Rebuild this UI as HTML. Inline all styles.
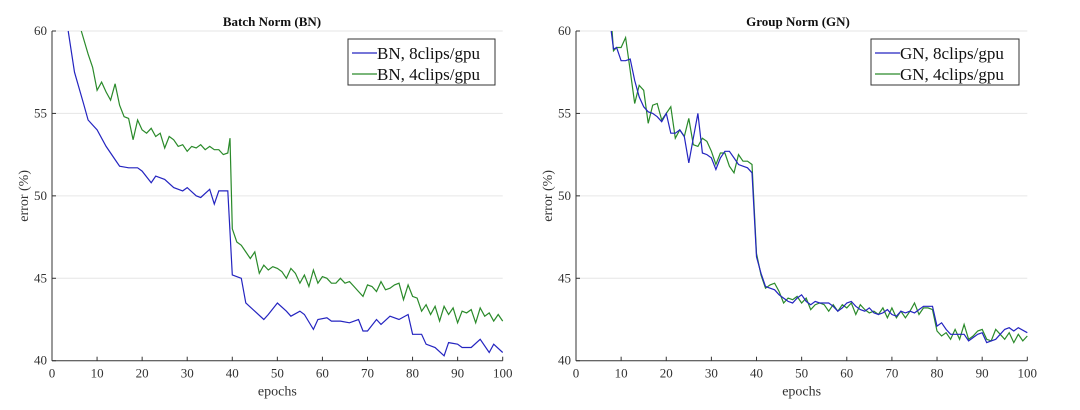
<!DOCTYPE html>
<html><head><meta charset="utf-8"><style>
html,body{margin:0;padding:0;background:#fff;width:1080px;height:410px;overflow:hidden}
svg text{font-family:"Liberation Serif",serif;fill:#333}
</style></head><body>
<svg id="s" width="1080" height="410" xmlns="http://www.w3.org/2000/svg"></svg>
<script>
const S=document.getElementById('s');
function add(tag,attrs,txt){const e=document.createElementNS('http://www.w3.org/2000/svg',tag);for(const k in attrs)e.setAttribute(k,attrs[k]);if(txt!==undefined)e.textContent=txt;S.appendChild(e);return e;}
function P(str){const a=str.trim().split(/\s+/).map(p=>p.split(':').map(Number));return a;}
const data={
bn8:P("3.6:60 5:57.5 7:55.6 8:54.6 10:54 12:53 14:52.2 15:51.8 17:51.7 19:51.7 20:51.5 22:50.8 23:51.2 25:51 27:50.5 29:50.3 30:50.5 32:50 33:49.9 35:50.4 36:49.5 37:50.3 39:50.3 40:45.2 42:45 43:43.5 45:43 47:42.5 48:42.8 50:43.5 52:43 53:42.7 55:43 56:42.8 58:41.9 59:42.5 61:42.6 62:42.4 64:42.4 66:42.3 68:42.5 69:41.8 70:41.8 72:42.5 73:42.2 75:42.7 77:42.5 79:42.8 80:41.6 82:41.6 83:41 85:40.8 87:40.3 88:41.1 90:41 91:40.8 93:40.8 95:41.3 97:40.5 98:41 100:40.5"),
bn4:P("6.5:60 8:58.6 9:57.8 10:56.4 11:56.9 12:56.3 13:55.8 14:56.8 15:55.5 16:54.8 17:54.7 18:53.4 19:54.6 20:54 21:53.8 22:54.1 23:53.6 24:53.8 25:52.9 26:53.6 27:53.4 28:53 29:53.1 30:52.7 31:53 32:52.9 33:53.1 34:52.8 35:53 36:52.8 37:52.8 38:52.5 39:52.6 39.5:53.5 40:48 41:47.2 42:47 43:46.6 44:46.2 45:46.6 46:45.3 47:45.8 48:45.5 49:45.7 50:45.6 51:45.4 52:45 53:45.6 54:45.3 55:44.7 56:45.2 57:44.5 58:45.5 59:44.7 60:45.1 61:45 62:44.7 63:44.7 64:45 65:44.7 66:44.8 67:44.5 68:44.2 69:43.9 70:44.6 71:44.5 72:44.2 73:44.8 74:44.3 75:44.4 76:44.6 77:44.7 78:43.7 79:44.6 80:43.9 81:43.8 82:43 83:43.4 84:42.8 85:43.3 86:42.4 87:43.3 88:42.8 89:43.2 90:42.3 91:43 92:42.9 93:43.1 94:42.3 95:43.2 96:42.7 97:42.9 98:42.4 99:42.8 100:42.4"),
gn8:P("7.8:60 8.3:58.9 9:59 10:58.2 11:58.2 12:58.3 13:57 14:56 15:55.4 16:55.1 17:55 18:54.8 19:54.5 20:55 21:53.8 22:53.8 23:54 24:53.6 25:52 26:53.5 27:55 28:52.6 29:52.5 30:52.3 31:51.6 32:52.3 33:52.7 34:52.7 35:52.3 36:51.9 37:51.8 38:51.7 39:51.4 40:46.3 41:45.3 42:44.5 43:44.4 44:44.3 45:44 46:43.8 47:43.6 48:43.5 49:43.8 50:44 51:43.6 52:43.4 53:43.6 54:43.5 55:43.5 56:43.5 57:43.3 58:43 59:43.2 60:43.5 61:43.6 62:43.3 63:43.1 64:43 65:43.2 66:42.9 67:42.8 68:42.9 69:43.1 70:42.8 71:42.7 72:43 73:42.9 74:43 75:42.9 76:43.1 77:43.3 78:43.3 79:43.3 80:42.1 81:42.3 82:41.9 83:41.6 84:41.6 85:41.6 86:41.6 87:41.2 88:41.4 89:41.6 90:41.7 91:41.1 92:41.2 93:41.3 94:41.6 95:41.9 96:42 97:41.8 98:42 100:41.7"),
gn4:P("8:60 8.3:58.8 9:59 10:59 11:59.6 12:57.6 13:55.6 14:56.7 15:56.4 16:54.4 17:55.5 18:55.6 19:54.6 20:55 21:55.4 22:53.5 23:54 24:53.6 25:54.7 26:53.1 27:53 28:53.5 29:53.3 30:52.7 31:51.9 32:52.6 33:52.6 34:51.8 35:51.4 36:52.5 37:52.1 38:52.1 39:51.9 40:46.5 41:45.2 42:44.4 43:44.6 44:44.7 45:44.2 46:43.5 47:43.8 48:43.7 49:43.9 50:43.5 51:43.8 52:43.1 53:43.4 54:43.5 55:43.4 56:43 57:43.4 58:43 59:43.4 60:43.2 61:43.5 62:42.8 63:43.4 64:43.1 65:42.9 66:43 67:42.8 68:43.2 69:42.6 70:43.2 71:42.6 72:43 73:42.6 74:43 75:43.5 76:42.8 77:43.2 78:43.2 79:43.1 80:41.8 81:41.5 82:41.7 83:41.3 84:41.9 85:41.3 86:42.2 87:41.3 88:41.5 89:41.8 90:41.9 91:41.3 92:41.2 93:41.9 94:41.6 95:41.3 96:41.7 97:41.1 98:41.6 99:41.2 100:41.5")};
const B='#2424c0',G='#2a8a2a';
function plot(x0,x1,title,tcx,s1,s2,l1,l2,lx0,lx1){
  const y0=31,y1=360.7;
  const X=v=>x0+(x1-x0)*v/100, Y=v=>y1-(y1-y0)*(v-40)/20;
  for(let v=45;v<=60;v+=5)add('line',{x1:x0,x2:x1,y1:Y(v),y2:Y(v),stroke:'#e6e6e6','stroke-width':1});
  add('line',{x1:x0,x2:x0,y1:y0,y2:y1,stroke:'#333','stroke-width':1});
  add('line',{x1:x0,x2:x1,y1:y1,y2:y1,stroke:'#333','stroke-width':1});
  for(let v=0;v<=100;v+=10){add('line',{x1:X(v),x2:X(v),y1:y1,y2:y1-4,stroke:'#333'});add('text',{x:X(v),y:y1+17,'text-anchor':'middle','font-size':13},v);}
  for(let v=40;v<=60;v+=5){add('line',{x1:x0,x2:x0+4,y1:Y(v),y2:Y(v),stroke:'#333'});add('text',{x:x0-5,y:Y(v)+4,'text-anchor':'end','font-size':13},v);}
  add('text',{x:(x0+x1)/2,y:y1+35,'text-anchor':'middle','font-size':14},'epochs');
  add('text',{x:0,y:0,transform:`translate(${x0-24},${(y0+y1)/2}) rotate(-90)`,'text-anchor':'middle','font-size':14},'error (%)');
  add('text',{x:tcx,y:26,'text-anchor':'middle','font-size':13,'font-weight':'bold',style:'fill:#111'},title);
  const clip=(pts)=>pts.map(p=>X(p[0]).toFixed(1)+','+Y(Math.min(p[1],60)).toFixed(1)).join(' ');
  add('polyline',{points:clip(s2),fill:'none',stroke:G,'stroke-width':1.2});
  add('polyline',{points:clip(s1),fill:'none',stroke:B,'stroke-width':1.2});
  add('rect',{x:lx0,y:39,width:lx1-lx0,height:46,fill:'#fff',stroke:'#333','stroke-width':1});
  add('line',{x1:lx0+4,x2:lx0+29,y1:53,y2:53,stroke:B,'stroke-width':1.2});
  add('line',{x1:lx0+4,x2:lx0+29,y1:74,y2:74,stroke:G,'stroke-width':1.2});
  add('text',{x:lx0+29,y:59,'font-size':17,style:'fill:#111'},l1);
  add('text',{x:lx0+29,y:80,'font-size':17,style:'fill:#111'},l2);
}
plot(52,502.7,'Batch Norm (BN)',272,data.bn8,data.bn4,'BN, 8clips/gpu','BN, 4clips/gpu',348,495);
plot(576,1027.3,'Group Norm (GN)',798,data.gn8,data.gn4,'GN, 8clips/gpu','GN, 4clips/gpu',871,1019);
</script>
</body></html>
